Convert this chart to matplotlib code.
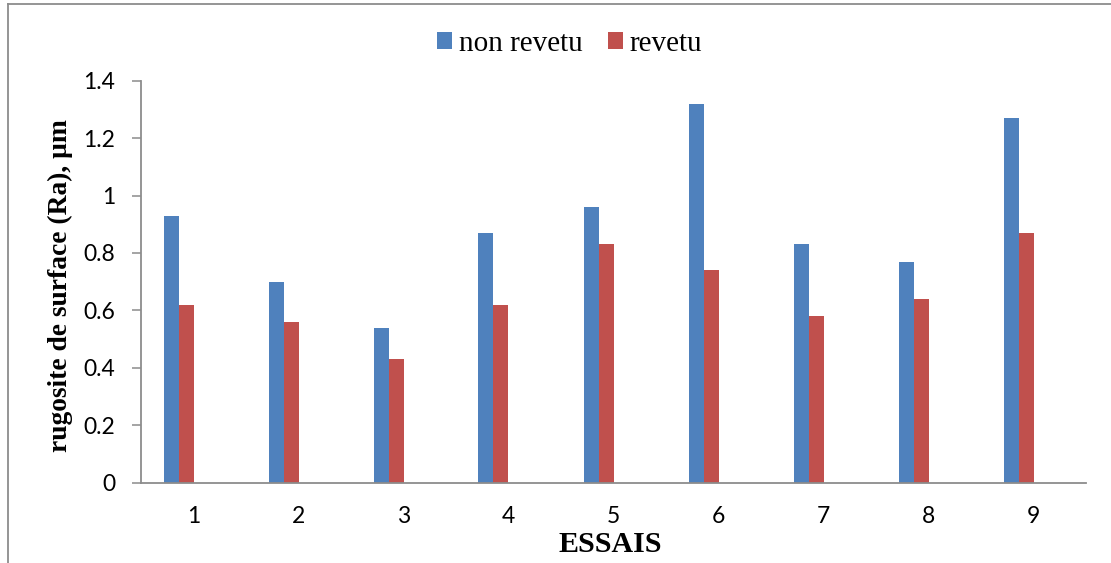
import numpy as np
from matplotlib import pyplot as plt
from matplotlib.lines import Line2D

ESSAIS = [1, 2, 3, 4, 5, 6, 7, 8, 9]
NON_REVETU = [0.93, 0.70, 0.54, 0.87, 0.96, 1.32, 0.83, 0.77, 1.27]
REVETU = [0.62, 0.56, 0.43, 0.62, 0.83, 0.74, 0.58, 0.64, 0.87]
Y_TICKS = [0, 0.2, 0.4, 0.6, 0.8, 1, 1.2, 1.4]
Y_TICK_LABELS = ['0', '0.2', '0.4', '0.6', '0.8', '1', '1.2', '1.4']

BLUE = '#4F81BD'
RED = '#C0504D'
GREY = '#8C8C8C'
SERIF = 'Liberation Serif'
SANS = 'Lato'


def main():
    fig = plt.figure(figsize=(11.11, 5.63), dpi=100)
    ax = fig.add_axes([141 / 1111, (563 - 482.7) / 563, 945 / 1111, 402 / 563])

    x = np.arange(len(ESSAIS))
    w = 1 / 7
    ax.bar(x - 1.5 * w, NON_REVETU, w, color=BLUE, label='non revetu')
    ax.bar(x - 0.5 * w, REVETU, w, color=RED, label='revetu')

    ax.set_xlim(-0.5, len(ESSAIS) - 0.5)
    ax.set_ylim(0, 1.4)
    ax.set_xticks(x)
    ax.set_xticklabels([str(e) for e in ESSAIS], fontfamily=SANS, fontsize=16.5)
    ax.set_yticks(Y_TICKS)
    ax.set_yticklabels(Y_TICK_LABELS, fontfamily=SANS, fontsize=16.5)
    ax.tick_params(axis='x', length=0, pad=17)
    ax.tick_params(axis='y', length=6.5, width=1.1, color=GREY, pad=12)

    for side in ['top', 'right']:
        ax.spines[side].set_visible(False)
    for side in ['left', 'bottom']:
        ax.spines[side].set_color(GREY)
        ax.spines[side].set_linewidth(1.3)

    ylab = ax.set_ylabel('rugosite de surface (Ra), µm', fontfamily=SERIF,
                         fontsize=19.8, fontweight='bold')
    ylab.set_va('center')
    ax.yaxis.set_label_coords(-81 / 945, (482.7 - 286) / 402)
    xlab = ax.set_xlabel('ESSAIS', fontfamily=SERIF, fontsize=21.6, fontweight='bold')
    xlab.set_va('center')
    ax.xaxis.set_label_coords(0.5 - 3.5 / 945, (482.7 - 545) / 402)

    ax.legend(loc='center', bbox_to_anchor=(569.5 / 1111, (563 - 43.7) / 563),
              bbox_transform=fig.transFigure, ncol=2, frameon=False,
              prop={'family': SERIF, 'size': 21}, handlelength=0.52,
              handleheight=0.52, handletextpad=0.24, columnspacing=0.86,
              borderpad=0, borderaxespad=0)

    # chart area border (cropped on the right and bottom)
    x0 = 8 / 1111
    y1 = 1 - 3.5 / 563
    fig.add_artist(Line2D([x0, x0], [0, y1], transform=fig.transFigure, color=GREY, lw=1.3))
    fig.add_artist(Line2D([x0, 1], [y1, y1], transform=fig.transFigure, color=GREY, lw=1.3))

    fig.savefig('out.png', dpi=100)


if __name__ == '__main__':
    main()
